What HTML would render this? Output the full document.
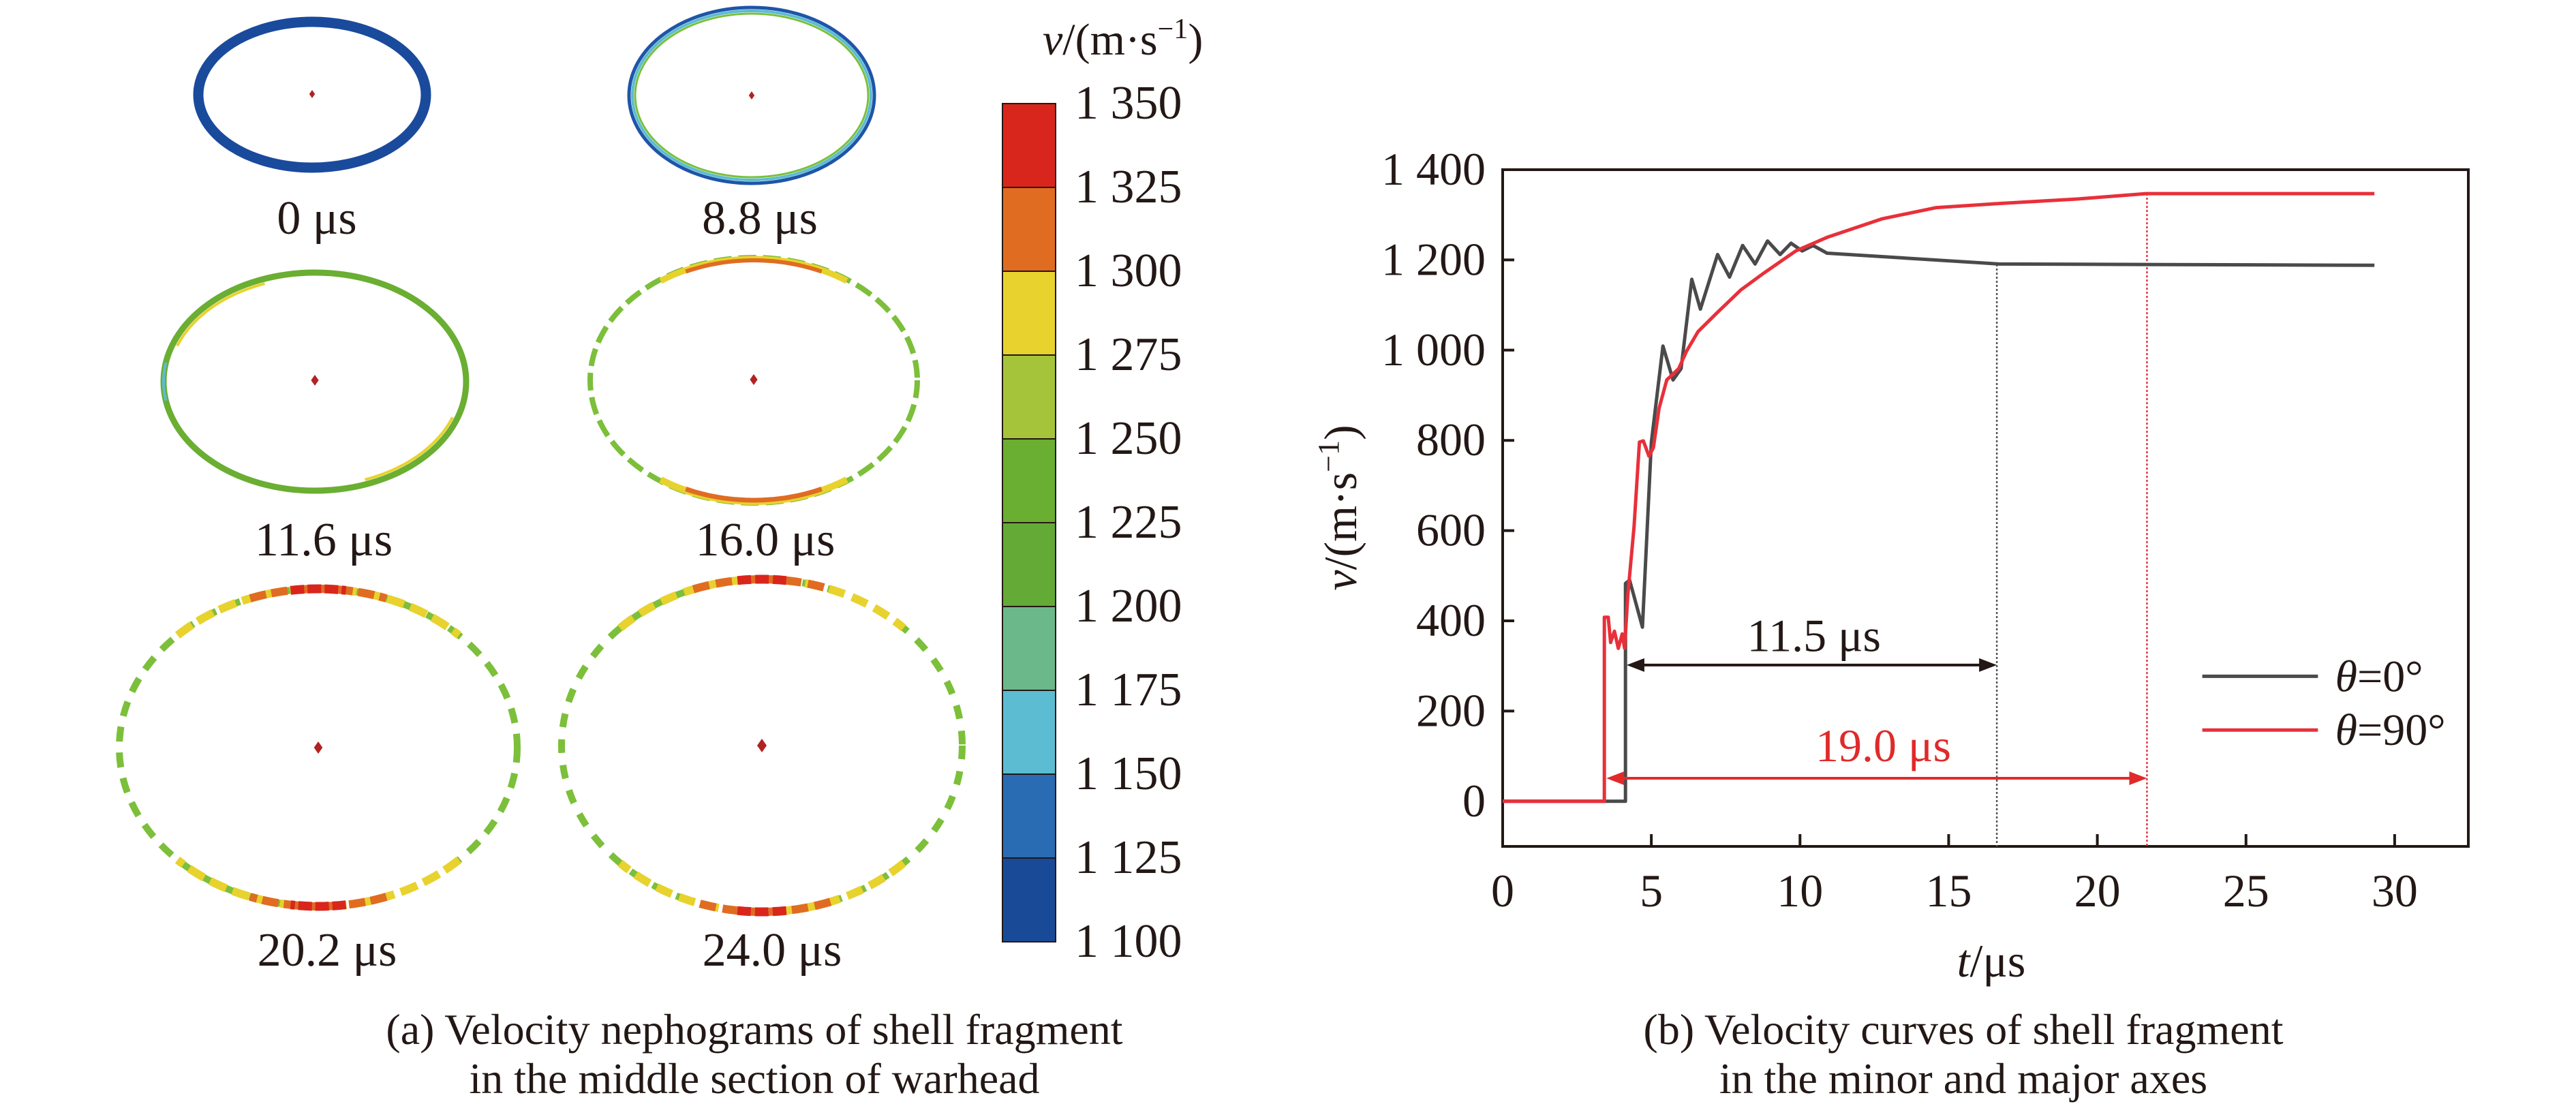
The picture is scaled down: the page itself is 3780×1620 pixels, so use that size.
<!DOCTYPE html>
<html><head><meta charset="utf-8"><style>
html,body{margin:0;padding:0;background:#fff}
svg{display:block}
text{font-family:"Liberation Serif","Times New Roman","DejaVu Serif",serif;fill:#231815}
</style></head><body>
<svg id="root" width="3780" height="1620" viewBox="0 0 3780 1620" xmlns="http://www.w3.org/2000/svg" font-family="Liberation Serif, serif">
<g id="left"></g>
<g id="cbar"></g>
<g id="chart"></g>
<text x="1107" y="1532" font-size="64" text-anchor="middle">(a) Velocity nephograms of shell fragment</text>
<text x="1107" y="1604" font-size="64" text-anchor="middle">in the middle section of warhead</text>
<text x="2881" y="1532" font-size="64" text-anchor="middle">(b) Velocity curves of shell fragment</text>
<text x="2881" y="1604" font-size="64" text-anchor="middle">in the minor and major axes</text>
</svg>
<script>
// ---- chart data ----
const blackT = [0,4.13,4.13,4.27,4.7,5.0,5.39,5.73,6.0,6.36,6.65,7.23,7.63,8.07,8.49,8.91,9.33,9.70,10.07,10.44,10.91,16.7,29.32];
const blackV = [0,0,483,490,386,796,1009,934,959,1157,1091,1212,1162,1232,1191,1242,1212,1237,1220,1232,1215,1191,1188];
const redT = [0,3.42,3.42,3.55,3.63,3.76,3.89,4.02,4.10,4.21,4.42,4.6,4.73,4.92,5.07,5.26,5.52,5.92,6.18,6.57,7.23,8.02,8.81,9.86,10.91,12.75,14.59,16.7,19.33,21.64,29.32];
const redV = [0,0,408,408,352,377,339,371,339,458,609,796,799,765,784,871,934,959,997,1041,1084,1134,1172,1220,1250,1291,1316,1325,1335,1347,1347];
const xTicks = [0,5,10,15,20,25,30];
const yTicks = [0,200,400,600,800,1000,1200,1400];
const yTickLabels = ["0","200","400","600","800","1 000","1 200","1 400"];
const markerT = [16.62,21.67];
const markerV = [1190,1347];
const arrowStartT = [4.17,3.49];
const arrowV = [302,51];
const arrowLabels = ["11.5 μs","19.0 μs"];
const arrowLabelT = [10.47,12.8];
const arrowLabelV = [333,89];
// colorbar data
const cbLabels = ["1 350","1 325","1 300","1 275","1 250","1 225","1 200","1 175","1 150","1 125","1 100"];
const cbColors = ["#d9261c","#e06c22","#e8d22e","#a6c43a","#6aae32","#64aa36","#6bb88a","#5bbcd2","#2a6cb4","#184a98"];

const NS="http://www.w3.org/2000/svg";
function mk(tag,attrs,parent){const e=document.createElementNS(NS,tag);for(const k in attrs)e.setAttribute(k,attrs[k]);parent.appendChild(e);return e;}
const X=t=>2205+t*43.63;
const Y=v=>249+(1400-v)*0.662;

const chart=document.getElementById('chart');
let fr=mk('rect',{x:2205,y:249,width:1417,height:993,fill:'none',stroke:'#231815','stroke-width':4},chart);


xTicks.forEach(t=>{
  let l=mk('line',{x1:X(t),x2:X(t),y1:1242,y2:1224,stroke:'#231815','stroke-width':4},chart);
  
  
  let tx=mk('text',{x:X(t),y:1330,'font-size':68,'text-anchor':'middle'},chart);tx.textContent=t;
  
  
});
yTicks.forEach((v,i)=>{
  let l=mk('line',{x1:2205,x2:2222,y1:Y(v),y2:Y(v),stroke:'#231815','stroke-width':4},chart);
  
  
  let tx=mk('text',{x:2180,y:Y(v)+22,'font-size':68,'text-anchor':'end'},chart);tx.textContent=yTickLabels[i];
  
  
});
let xt=mk('text',{x:2922,y:1433,'font-size':68,'text-anchor':'middle'},chart);
xt.innerHTML='<tspan font-style="italic">t</tspan>/μs';


let yt=mk('text',{x:0,y:0,'font-size':68,'text-anchor':'middle',transform:'translate(1990,745) rotate(-90)'},chart);
yt.innerHTML='<tspan font-style="italic">v</tspan>/(m·s<tspan dy="-26" font-size="44">−1</tspan><tspan dy="26">)</tspan>';


const mColors=['#555','#e8303a'];
markerT.forEach((t,i)=>{
  let l=mk('line',{x1:X(t),x2:X(t),y1:Y(markerV[i]),y2:1242,stroke:mColors[i],'stroke-width':2.5,'stroke-dasharray':'3 3'},chart);
  
  
});
function pathOf(T,V){return T.map((t,i)=>(i?'L':'M')+X(t).toFixed(1)+' '+Y(V[i]).toFixed(1)).join(' ');}
let pb=mk('path',{d:pathOf(blackT,blackV),fill:'none',stroke:'#4a4a4a','stroke-width':5,'stroke-linejoin':'round'},chart);


let pr=mk('path',{d:pathOf(redT,redV),fill:'none',stroke:'#e8303a','stroke-width':5,'stroke-linejoin':'round'},chart);


const aColors=['#231815','#e02a2a'];
arrowV.forEach((v,i)=>{
  const x1=X(arrowStartT[i]),x2=X(markerT[i]),y=Y(v),c=aColors[i];
  let l=mk('line',{x1:x1+20,x2:x2-20,y1:y,y2:y,stroke:c,'stroke-width':4},chart);
  
  
  let h1=mk('polygon',{points:`${x1},${y} ${x1+26},${y-10} ${x1+26},${y+10}`,fill:c},chart);
  
  
  let h2=mk('polygon',{points:`${x2},${y} ${x2-26},${y-10} ${x2-26},${y+10}`,fill:c},chart);
  
  
  let t=mk('text',{x:X(arrowLabelT[i]),y:Y(arrowLabelV[i]),'font-size':68,'text-anchor':'middle',style:'fill:'+c},chart);
  t.textContent=arrowLabels[i];
  
  
});
const legV=[277,158],legC=['#4a4a4a','#e8303a'],legL=['0°','90°'];
legV.forEach((v,i)=>{
  let l=mk('line',{x1:X(23.53),x2:X(27.42),y1:Y(v),y2:Y(v),stroke:legC[i],'stroke-width':5},chart);
  
  
  let t=mk('text',{x:X(28.0),y:Y(v)+22,'font-size':66},chart);
  t.innerHTML='<tspan font-style="italic">θ</tspan>='+legL[i];
  
  
});

// ---- colorbar ----
const cb=document.getElementById('cbar');
cbColors.forEach((c,i)=>{
  let r=mk('rect',{x:1471,y:152+i*123,width:78,height:123,fill:c,stroke:'#231815','stroke-width':2},cb);
  
  
});
cbLabels.forEach((s,i)=>{
  let t=mk('text',{x:1577,y:152+i*123+22,'font-size':70},cb);t.textContent=s;
  
  
});
let ct=mk('text',{x:1530,y:80,'font-size':66},cb);
ct.innerHTML='<tspan font-style="italic">v</tspan>/(m·s<tspan dy="-24" font-size="42">−1</tspan><tspan dy="24">)</tspan>';



// ---- nephograms ----
const L=document.getElementById('left');
function arc(cx,cy,rx,ry,a0,a1){const p=[];for(let a=a0;a<=a1;a+=2){const r=a*Math.PI/180;p.push((p.length?'L':'M')+(cx+rx*Math.cos(r)).toFixed(1)+' '+(cy+ry*Math.sin(r)).toFixed(1));}return p.join(' ');}
function ell(cx,cy,rx,ry,stroke,w,dash,name){
  let e=mk('ellipse',{cx,cy,rx,ry,fill:'none',stroke,'stroke-width':w},L);
  if(dash)e.setAttribute('stroke-dasharray',dash);
  
  
}
function arcp(cx,cy,rx,ry,a0,a1,stroke,w,dash,name){
  let e=mk('path',{d:arc(cx,cy,rx,ry,a0,a1),fill:'none',stroke,'stroke-width':w},L);
  if(dash)e.setAttribute('stroke-dasharray',dash);
  
  
}
function dot(cx,cy,s,name){
  let d=mk('polygon',{points:`${cx},${cy-s} ${cx+s*0.7},${cy} ${cx},${cy+s} ${cx-s*0.7},${cy}`,fill:'#b22222'},L);
  
  
}
function lab(x,y,s,name){
  let t=mk('text',{x,y,'font-size':70,'text-anchor':'middle'},L);t.textContent=s;
  
  
}
// 0 us
ell(458,139,167,107,'#1a4a9c',15,null,'nephogram-0us');
dot(458,138,6,'center-point');
lab(465,343,'0 μs','label-0us');
// 8.8 us
ell(1103,140,180,129,'#1f55a8',5,null,'nephogram-8-8us');
ell(1103,140,175,124,'#5bbcd2',4,null,'nephogram-8-8us-cyan');
ell(1103,140,171,120,'#7cbf3a',3,null,'nephogram-8-8us-green');
dot(1103,140,6,'center-point');
lab(1115,343,'8.8 μs','label-8-8us');
// 11.6 us
ell(462,560,222,160,'#6aae32',9,null,'nephogram-11-6us');
arcp(462,560,215,153,20,70,'#e8d22e',4,null,'nephogram-11-6us-yellow');
arcp(462,560,215,153,200,250,'#e8d22e',4,null,'nephogram-11-6us-yellow');
arcp(462,560,222,160,170,190,'#5bbcd2',4,null,'nephogram-11-6us-cyan');
dot(462,558,8,'center-point');
lab(475,815,'11.6 μs','label-11-6us');
// 16.0 us
ell(1106,558,240,180,'#7cbf3a',8,'26 10','nephogram-16us');
arcp(1106,558,238,178,235,305,'#e8d22e',9,null,'nephogram-16us-yellow');
arcp(1106,558,236,176,245,295,'#e06c22',6,null,'nephogram-16us-orange');
arcp(1106,558,238,178,55,125,'#e8d22e',10,null,'nephogram-16us-yellow');
arcp(1106,558,236,176,65,115,'#e06c22',7,null,'nephogram-16us-orange');
dot(1106,557,8,'center-point');
lab(1123,815,'16.0 μs','label-16us');
// 20.2 us
ell(467,1097,292,233,'#7cbf3a',10,'22 16','nephogram-20-2us');
arcp(467,1097,292,233,225,315,'#e8d22e',12,'26 10','nephogram-20-2us-yellow');
arcp(467,1097,292,233,250,290,'#e06c22',12,'24 8','nephogram-20-2us-orange');
arcp(467,1097,292,233,262,278,'#d9261c',13,'20 5','nephogram-20-2us-red');
arcp(467,1097,292,233,45,135,'#e8d22e',12,'26 10','nephogram-20-2us-yellow');
arcp(467,1097,292,233,70,110,'#e06c22',12,'24 8','nephogram-20-2us-orange');
arcp(467,1097,292,233,82,98,'#d9261c',13,'20 5','nephogram-20-2us-red');
dot(467,1097,9,'center-point');
lab(480,1417,'20.2 μs','label-20-2us');
// 24.0 us
ell(1118,1094,294,244,'#7cbf3a',10,'20 18','nephogram-24us');
arcp(1118,1094,294,244,225,315,'#e8d22e',12,'24 12','nephogram-24us-yellow');
arcp(1118,1094,294,244,250,290,'#e06c22',12,'24 10','nephogram-24us-orange');
arcp(1118,1094,294,244,263,277,'#d9261c',13,'20 6','nephogram-24us-red');
arcp(1118,1094,294,244,45,135,'#e8d22e',12,'24 12','nephogram-24us-yellow');
arcp(1118,1094,294,244,70,110,'#e06c22',12,'24 10','nephogram-24us-orange');
arcp(1118,1094,294,244,83,97,'#d9261c',13,'20 6','nephogram-24us-red');
dot(1118,1094,10,'center-point');
lab(1133,1417,'24.0 μs','label-24us');
</script>
</body></html>
